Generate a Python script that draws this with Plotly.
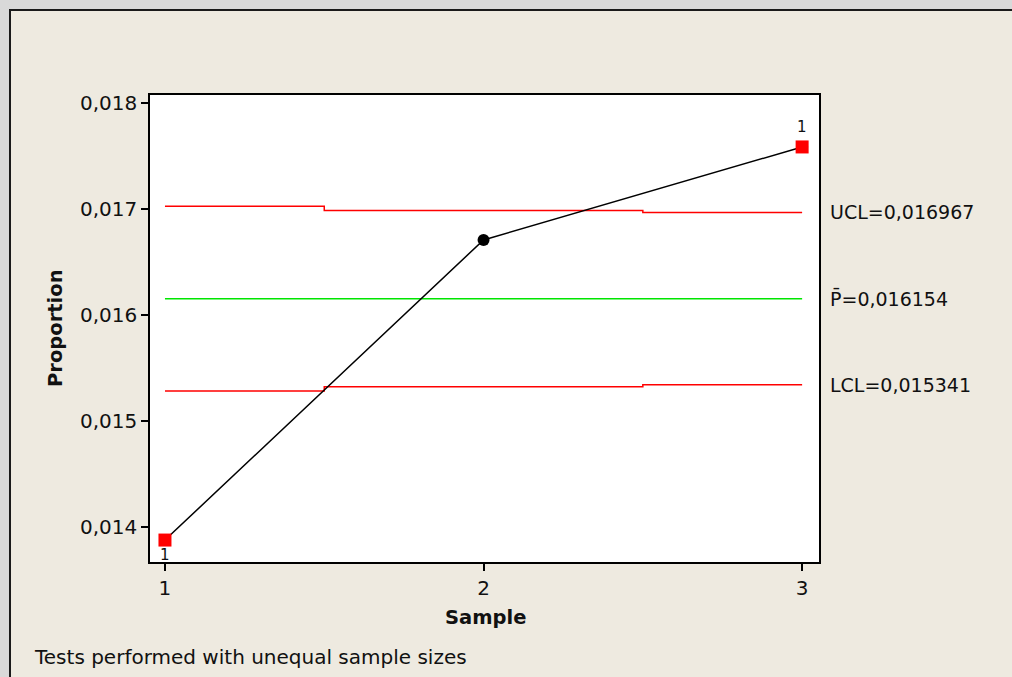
import plotly.graph_objects as go

# ---- data ----
samples = [1, 2, 3]
proportions = [0.013877, 0.016708, 0.017585]
limit_x = [1, 1.5, 2.5, 3]
ucl = [0.017025, 0.016985, 0.016967, 0.016967]
lcl = [0.015283, 0.015323, 0.015341, 0.015341]
center = 0.016154
center_x = [1, 3]
y_ticks = [0.014, 0.015, 0.016, 0.017, 0.018]
y_tick_labels = ["0,014", "0,015", "0,016", "0,017", "0,018"]
x_ticks = [1, 2, 3]
x_tick_labels = ["1", "2", "3"]
limit_labels = ["UCL=0,016967", "P\u0304=0,016154", "LCL=0,015341"]
limit_values = [0.016967, 0.016154, 0.015341]
out_of_control = [0, 2]  # indices flagged with test 1
footnote = "Tests performed with unequal sample sizes"

FONT = "DejaVu Sans"

fig = go.Figure()
fig.add_trace(go.Scatter(x=limit_x, y=ucl, mode="lines", line=dict(color="#ff0000", width=1.5, shape="hv"),
                         hoverinfo="skip"))
fig.add_trace(go.Scatter(x=limit_x, y=lcl, mode="lines", line=dict(color="#ff0000", width=1.5, shape="hv"),
                         hoverinfo="skip"))
fig.add_trace(go.Scatter(x=center_x, y=[center, center], mode="lines", line=dict(color="#00e600", width=1.5),
                         hoverinfo="skip"))
fig.add_trace(go.Scatter(x=samples, y=proportions, mode="lines+markers", line=dict(color="black", width=1.5),
                         marker=dict(symbol="circle", size=12, color="black")))
fig.add_trace(go.Scatter(x=[samples[i] for i in out_of_control], y=[proportions[i] for i in out_of_control],
                         mode="markers", marker=dict(symbol="square", size=13, color="#ff0000")))

# background panel and white plot area
shapes = [
    dict(type="rect", xref="paper", yref="paper", x0=-140/669, x1=1.5, y0=-0.5, y1=552/467,
         fillcolor="#eeeae0", line=dict(color="#1a1a1a", width=2), layer="below"),
    dict(type="rect", xref="paper", yref="paper", x0=0, x1=1, y0=0, y1=1,
         fillcolor="white", line=dict(width=0), layer="below"),
]

annotations = []
for lab, val in zip(limit_labels, limit_values):
    annotations.append(dict(x=(828-150)/669, xref="paper", y=val, yref="y", text=lab, showarrow=False,
                            xanchor="left", yanchor="middle", font=dict(family=FONT, size=19, color="#111")))
# test-1 flags
annotations.append(dict(x=samples[2], y=proportions[2], text="1", showarrow=False, yshift=20,
                        xanchor="center", yanchor="middle", font=dict(family=FONT, size=15, color="#111")))
annotations.append(dict(x=samples[0], y=proportions[0], text="1", showarrow=False, yshift=-15,
                        xanchor="center", yanchor="middle", font=dict(family=FONT, size=15, color="#111")))
# axis titles and footnote
annotations.append(dict(x=(485-150)/669, xref="paper", y=(562-617)/467, yref="paper", text="<b>Sample</b>",
                        showarrow=False, xanchor="center", yanchor="middle",
                        font=dict(family=FONT, size=19.5, color="#111")))
annotations.append(dict(x=(55-150)/669, xref="paper", y=(562-328)/467, yref="paper", text="<b>Proportion</b>",
                        showarrow=False, textangle=-90, xanchor="center", yanchor="middle",
                        font=dict(family=FONT, size=19.5, color="#111")))
annotations.append(dict(x=(32-150)/669, xref="paper", y=(562-657)/467, yref="paper", text=footnote,
                        showarrow=False, xanchor="left", yanchor="middle",
                        font=dict(family=FONT, size=20, color="#111")))

fig.update_layout(
    width=1012, height=677,
    margin=dict(l=150, r=1012-819, t=95, b=677-562),
    paper_bgcolor="#d9d9d9",
    plot_bgcolor="white",
    showlegend=False,
    shapes=shapes,
    annotations=annotations,
    font=dict(family=FONT, size=20, color="#111"),
)
fig.update_xaxes(range=[0.953, 3.053], tickvals=x_ticks, ticktext=x_tick_labels, showgrid=False, zeroline=False,
                 showline=True, linecolor="black", linewidth=1.5, mirror=True, ticks="outside", ticklen=7,
                 tickcolor="black", tickwidth=1.5, tickfont=dict(family=FONT, size=20, color="#111"))
fig.update_yaxes(range=[0.01367, 0.018075], tickvals=y_ticks, ticktext=y_tick_labels, showgrid=False,
                 zeroline=False, showline=True, linecolor="black", linewidth=1.5, mirror=True, ticks="outside",
                 ticklen=7, tickcolor="black", tickwidth=1.5, tickfont=dict(family=FONT, size=20, color="#111"))

fig.write_html("out.html", config={"displayModeBar": False},
               post_script="document.body.style.margin='0px';document.body.style.overflow='hidden';")
